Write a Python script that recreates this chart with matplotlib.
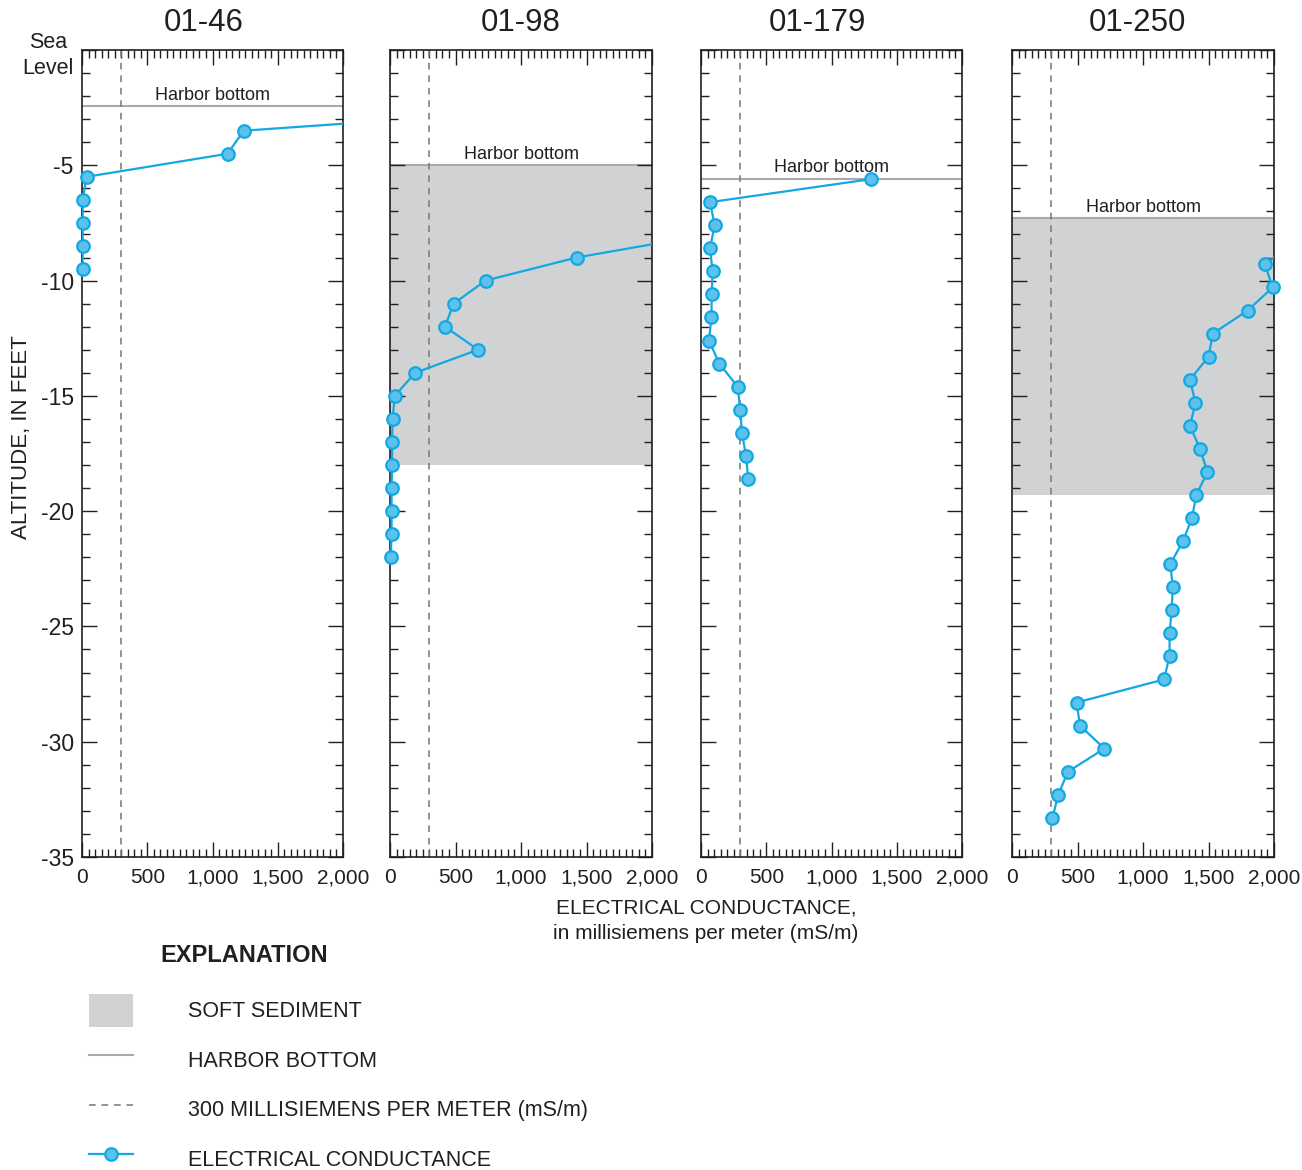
import numpy as np
import matplotlib
matplotlib.use('Agg')
import matplotlib.pyplot as plt
from matplotlib.ticker import MultipleLocator, FixedLocator
from matplotlib.patches import Patch
from matplotlib.lines import Line2D

plt.rcParams['font.family'] = ['Liberation Sans', 'DejaVu Sans']

# wells and their harbor bottom / soft sediment base (feet)
well_names = ['01-46', '01-98', '01-179', '01-250']
harbor_bottom = [-2.45, -5.0, -5.6, -7.3]
sediment_base = [None, -18.0, None, -19.3]

# conductance profiles (mS/m) vs altitude (ft)
depth_46 = [-2.5, -3.5, -4.5, -5.5, -6.5, -7.5, -8.5, -9.5]
cond_46 = [3760, 1240, 1115, 35, 5, 5, 5, 5]

depth_98 = [-8, -9, -10, -11, -12, -13, -14, -15, -16, -17, -18, -19, -20, -21, -22]
cond_98 = [2430, 1425, 730, 485, 420, 672, 192, 36, 20, 16, 16, 12, 12, 12, 5]

depth_179 = [-5.6, -6.6, -7.6, -8.6, -9.6, -10.6, -11.6, -12.6, -13.6, -14.6,
             -15.6, -16.6, -17.6, -18.6]
cond_179 = [1303, 69, 105, 69, 89, 82, 80, 61, 140, 281, 301, 314, 345, 362]

depth_250 = [-8.3, -9.3, -10.3, -11.3, -12.3, -13.3, -14.3, -15.3, -16.3, -17.3,
             -18.3, -19.3, -20.3, -21.3, -22.3, -23.3, -24.3, -25.3, -26.3, -27.3,
             -28.3, -29.3, -30.3, -31.3, -32.3, -33.3]
cond_250 = [2160, 1931, 1990, 1798, 1533, 1500, 1359, 1400, 1359, 1435,
            1492, 1407, 1374, 1305, 1208, 1228, 1218, 1203, 1203, 1160,
            493, 519, 705, 427, 353, 309]

depths = [depth_46, depth_98, depth_179, depth_250]
conds = [cond_46, cond_98, cond_179, cond_250]

threshold = 300
x_ticks = [0, 500, 1000, 1500, 2000]
x_tick_labels = ['0', '500', '1,000', '1,500', '2,000']
y_ticks = [0, -5, -10, -15, -20, -25, -30, -35]
y_tick_labels = ['Sea\nLevel', '-5', '-10', '-15', '-20', '-25', '-30', '-35']

BLUE = '#12a8e2'
BLUE_FACE = '#5cc2ec'
GREY_FILL = '#d1d2d4'
GREY_LINE = '#a7a9ac'
DARK = '#231f20'

W, H = 1302, 1170
fig = plt.figure(figsize=(W / 100, H / 100), dpi=100)

panels = [(82, 261), (390, 262), (701, 261), (1012, 262)]
title_x = [0.465, 0.5, 0.445, 0.477]
top_px, bot_px = 50, 857

for i, (left, width) in enumerate(panels):
    ax = fig.add_axes([left / W, 1 - bot_px / H, width / W, (bot_px - top_px) / H])
    hb = harbor_bottom[i]
    if sediment_base[i] is not None:
        ax.axhspan(sediment_base[i], hb, color=GREY_FILL, lw=0, zorder=0)
    ax.axhline(hb, color=GREY_LINE, lw=1.5, zorder=1)
    ax.axvline(threshold, color='#808080', lw=1.2, dashes=(4, 3.5), zorder=2)

    c = np.array(conds[i])
    d = np.array(depths[i])
    ax.plot(c, d, color=BLUE, lw=1.6, zorder=3)
    inside = c <= 2000
    ax.plot(c[inside], d[inside], ls='none', marker='o', ms=9, mfc=BLUE_FACE,
            mec=BLUE, mew=1.6, clip_on=False, zorder=4)

    ax.annotate('Harbor bottom', xy=(1000, hb), xytext=(0, 2),
                textcoords='offset points', ha='center', va='bottom',
                fontsize=13, color=DARK)

    ax.set_xlim(0, 2000)
    ax.set_ylim(-35, 0)
    ax.xaxis.set_major_locator(FixedLocator(x_ticks))
    ax.set_xticklabels(x_tick_labels)
    ax.xaxis.set_minor_locator(MultipleLocator(50))
    ax.yaxis.set_major_locator(FixedLocator(y_ticks))
    ax.yaxis.set_minor_locator(MultipleLocator(1))
    ax.tick_params(which='both', direction='in', top=True, right=True,
                   color=DARK, width=1, labelcolor=DARK)
    ax.tick_params(which='major', length=11)
    ax.tick_params(which='minor', length=6)
    ax.tick_params(axis='x', labelsize=15, pad=8)
    if i == 0:
        ax.set_yticklabels(y_tick_labels)
        ax.tick_params(axis='y', labelsize=16.5, pad=6)
        for lbl in ax.get_yticklabels():
            if '\n' in lbl.get_text():
                lbl.set_multialignment('center')
                lbl.set_fontsize(15.5)
                lbl.set_linespacing(1.35)
    else:
        ax.tick_params(axis='y', labelleft=False)
    for sp in ax.spines.values():
        sp.set_color(DARK)
        sp.set_linewidth(1.2)
    ax.set_title(well_names[i], fontsize=22.5, pad=14, color=DARK, x=title_x[i])

fig.text(22 / W, 1 - 437 / H, 'ALTITUDE, IN FEET', rotation=90, ha='center',
         va='center', fontsize=16, color=DARK)
fig.text(706 / W, 1 - 899 / H,
         'ELECTRICAL CONDUCTANCE,\nin millisiemens per meter (mS/m)',
         ha='center', va='top', fontsize=15, color=DARK, linespacing=1.4)

fig.text(160 / W, 1 - 955 / H, 'EXPLANATION', ha='left', va='center',
         fontsize=17, fontweight='bold', color=DARK)

handles = [
    Patch(facecolor=GREY_FILL, edgecolor='none'),
    Line2D([], [], color=GREY_LINE, lw=1.5),
    Line2D([], [], color='#808080', lw=1.2, dashes=(4, 3.5)),
    Line2D([], [], color=BLUE, lw=1.6, marker='o', ms=9, mfc=BLUE_FACE,
           mec=BLUE, mew=1.6),
]
labels = ['SOFT SEDIMENT', 'HARBOR BOTTOM',
          '300 MILLISIEMENS PER METER (mS/m)', 'ELECTRICAL CONDUCTANCE']
leg = fig.legend(handles, labels, loc='upper left',
                 bbox_to_anchor=(89 / W, 1 - 994 / H), frameon=False,
                 fontsize=15.5, handlelength=2.05, handleheight=1.95,
                 handletextpad=2.55, labelspacing=0.79, borderpad=0,
                 borderaxespad=0, numpoints=1)
for t in leg.get_texts():
    t.set_color(DARK)

fig.savefig('out.png', dpi=100)
